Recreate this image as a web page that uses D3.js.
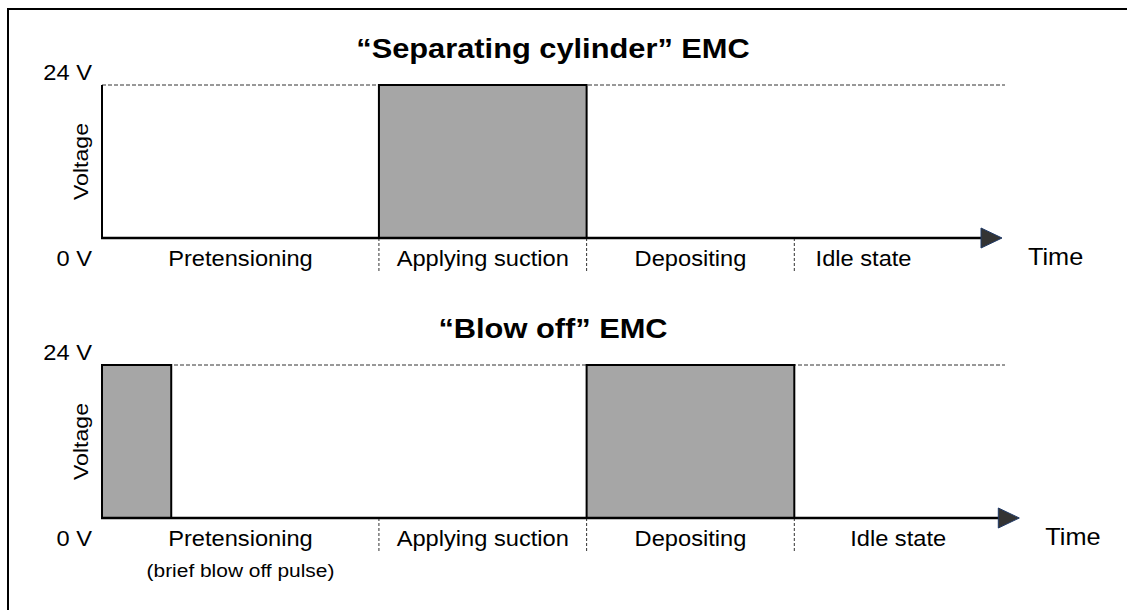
<!DOCTYPE html>
<html lang="en">
<head>
  <meta charset="UTF-8">
  <title>EMC timing diagram</title>
  <script src="https://d3js.org/d3.v7.min.js"></script>
  <style>
    body { margin: 0; background: #fff; }
    svg { display: block; }
    text { font-family: 'Liberation Sans', Arial, sans-serif; fill: #000; }
  </style>
</head>
<body>
<script>
  // phases of the cycle (time units)
  const phases = ["Pretensioning", "Applying suction", "Depositing", "Idle state"];
  const phaseStart = [0, 4, 7, 10];
  const phaseEnd = [4, 7, 10, 13];

  const voltTicks = [0, 24];
  const voltLabels = ["0 V", "24 V"];

  // one entry per diagram
  const titles = ["\u201cSeparating cylinder\u201d EMC", "\u201cBlow off\u201d EMC"];
  const onIntervals = [
    [[4, 7]],
    [[0, 1], [7, 10]]
  ];
  const labelAt = [
    [2, 5.5, 8.5, 11],
    [2, 5.5, 8.5, 11.5]
  ];
  const axisEnd = [13, 13.25];
  const notes = ["", "(brief blow off pulse)"];

  const W = 1127, H = 610;
  const SX = 1.1; // the original text is a bit wider than Arial

  const svg = d3.select("body").append("svg")
    .attr("width", W)
    .attr("height", H);

  // outer frame (runs past the right and bottom edge)
  svg.append("rect")
    .attr("x", 8).attr("y", 9)
    .attr("width", W + 20).attr("height", H + 20)
    .attr("fill", "none")
    .attr("stroke", "#000")
    .attr("stroke-width", 2);

  const x = d3.scaleLinear().domain([0, 13]).range([102, 1002]);

  // helper for slightly stretched text
  function label(g, str, tx, ty, size, anchor, weight) {
    return g.append("text")
      .attr("transform", `translate(${tx},${ty}) scale(${SX},1)`)
      .attr("text-anchor", anchor || "middle")
      .style("font-size", size + "px")
      .style("font-weight", weight || "normal")
      .text(str);
  }

  titles.forEach((title, i) => {
    const off = i * 280;
    const g = svg.append("g");
    const y = d3.scaleLinear().domain([0, 24]).range([238 + off, 85 + off]);

    label(g, title, 553, 58 + off, 28, "middle", "bold");

    // 24 V reference line
    g.append("line")
      .attr("x1", x(0)).attr("x2", x(13) + 3)
      .attr("y1", y(24)).attr("y2", y(24))
      .attr("stroke", "#333")
      .attr("stroke-width", 1)
      .attr("stroke-dasharray", "4,2");

    // phase dividers
    g.selectAll(".div")
      .data(phaseStart.slice(1))
      .enter().append("line")
      .attr("x1", d => x(d)).attr("x2", d => x(d))
      .attr("y1", y(0)).attr("y2", y(0) + 33)
      .attr("stroke", "#333")
      .attr("stroke-width", 1)
      .attr("stroke-dasharray", "3,2");

    // voltage on
    g.selectAll(".pulse")
      .data(onIntervals[i])
      .enter().append("rect")
      .attr("x", d => x(d[0]))
      .attr("y", y(24))
      .attr("width", d => x(d[1]) - x(d[0]))
      .attr("height", y(0) - y(24))
      .attr("fill", "#a6a6a6")
      .attr("stroke", "#000")
      .attr("stroke-width", 2);

    // y axis
    g.append("line")
      .attr("x1", x(0)).attr("x2", x(0))
      .attr("y1", y(24)).attr("y2", y(0))
      .attr("stroke", "#000").attr("stroke-width", 2);

    // time axis with arrow
    const xe = x(axisEnd[i]);
    g.append("line")
      .attr("x1", x(0) - 1).attr("x2", xe - 10)
      .attr("y1", y(0)).attr("y2", y(0))
      .attr("stroke", "#000").attr("stroke-width", 2.5);
    g.append("path")
      .attr("d", `M${xe - 21},${y(0) - 10}L${xe},${y(0)}L${xe - 21},${y(0) + 10}Z`)
      .attr("fill", "#333")
      .attr("stroke", "#1f3864")
      .attr("stroke-width", 1);

    label(g, "Time", xe + 26, y(0) + 27, 23, "start");

    // voltage tick labels
    voltTicks.forEach((v, k) => {
      label(g, voltLabels[k], 92, v === 0 ? y(0) + 28 : y(24) - 5, 21.5, "end");
    });

    g.append("text")
      .attr("transform", `translate(88,${(y(0) + y(24)) / 2}) rotate(-90) scale(${SX},1)`)
      .attr("text-anchor", "middle")
      .style("font-size", "21px")
      .text("Voltage");

    phases.forEach((p, k) => {
      label(g, p, x(labelAt[i][k]), y(0) + 28, 21.5, "middle");
    });

    if (notes[i]) label(g, notes[i], x(labelAt[i][0]), y(0) + 59, 19, "middle");
  });
</script>
</body>
</html>
